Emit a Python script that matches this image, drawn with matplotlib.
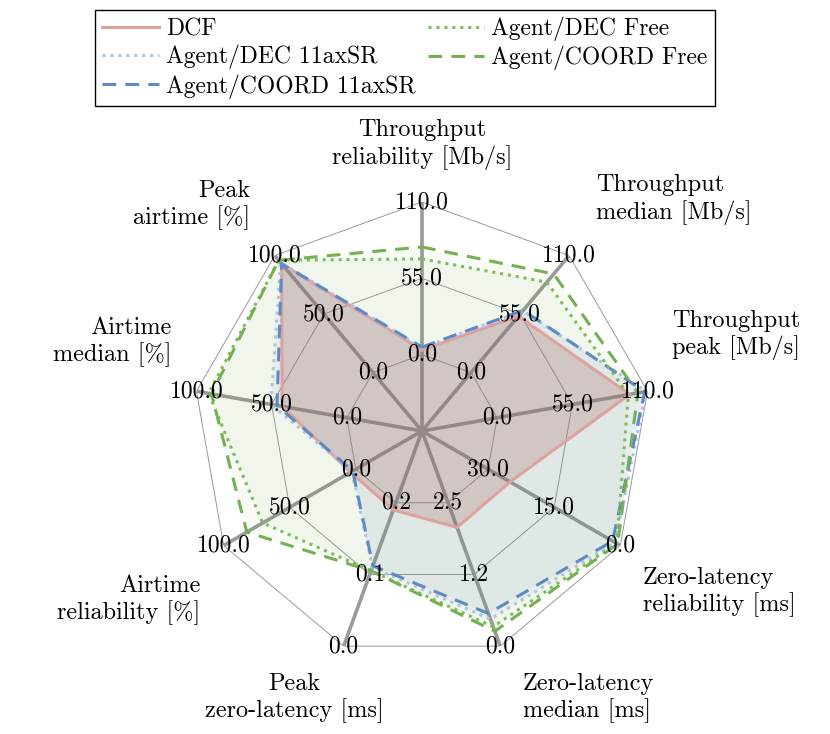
import matplotlib
matplotlib.use('Agg')
import matplotlib.pyplot as plt
import numpy as np

# LaTeX-like look
plt.rcParams['font.family'] = 'cmr10'
plt.rcParams['axes.unicode_minus'] = False
plt.rcParams['font.size'] = 17

# axes of the radar, clockwise from the top
categories = [
    'Throughput\nreliability [Mb/s]',
    'Throughput\nmedian [Mb/s]',
    'Throughput\npeak [Mb/s]',
    'Zero-latency\nreliability [ms]',
    'Zero-latency\nmedian [ms]',
    'Peak\nzero-latency [ms]',
    'Airtime\nreliability [%]',
    'Airtime\nmedian [%]',
    'Peak\nairtime [%]',
]
# value on the first (inner) ring and on the outer ring of each axis
inner_ticks = [0, 0, 0, 30, 2.5, 0.2, 0, 0, 0]
outer_ticks = [110, 110, 110, 0, 0, 0, 100, 100, 100]

series_names = ['DCF', 'Agent/DEC 11axSR', 'Agent/COORD 11axSR',
                'Agent/DEC Free', 'Agent/COORD Free']
dcf = [3.4, 53, 97, 25, 2.07, 0.19, 4, 43, 93]
dec_11ax = [5, 58, 109, 1.2, 0.47, 0.11, 3, 50.5, 94]
coord_11ax = [5.5, 58.5, 108, 1.75, 0.57, 0.112, 2.4, 46.4, 93]
dec_free = [69, 85, 96, 0.8, 0.34, 0.105, 70.5, 92, 96]
coord_free = [77.6, 92.7, 103, 0.6, 0.26, 0.105, 82.5, 90, 96]

line_colors = ['#dfa0a0', '#abc4e2', '#5d8ac4', '#80bb5c', '#74b152']
fill_colors = ['#b85a62', '#4c72b0', '#4c72b0', '#70ad47', '#70ad47']
fill_alpha = [0.25, 0.05, 0.05, 0.05, 0.05]
styles = ['-', (0, (1, 1.6)), (0, (4.5, 3)), (0, (1, 1.6)), (0, (4.5, 3))]


def to_radius(values):
    v = np.asarray(values, dtype=float)
    lo = np.asarray(inner_ticks, dtype=float)
    hi = np.asarray(outer_ticks, dtype=float)
    # 0 at the centre, inner tick at 1/3, outer tick at 1
    return 1 / 3 + 2 / 3 * (v - lo) / (hi - lo)


n = len(categories)
angles = np.linspace(0, 2 * np.pi, n, endpoint=False)
closed = np.append(angles, angles[0])

fig = plt.figure(figsize=(8.3, 7.34), dpi=100)
ax = fig.add_axes([0.2325, 0.1008, 0.5518, 0.624], polar=True)
ax.set_theta_zero_location('N')
ax.set_theta_direction(-1)
ax.set_ylim(0, 1)
ax.axis('off')

# polygon grid and spokes
for level in (1 / 3, 2 / 3, 1):
    ax.plot(closed, [level] * (n + 1), color='#9a9a9a', lw=0.7, zorder=1)
for a in angles:
    ax.plot([a, a], [0, 1], color='#9a9a9a', lw=2.6, zorder=1,
            solid_capstyle='butt')

all_series = [dcf, dec_11ax, coord_11ax, dec_free, coord_free]
handles = []
for vals, name, lc, fc, fa, ls in zip(all_series, series_names, line_colors,
                                      fill_colors, fill_alpha, styles):
    r = to_radius(vals)
    r = np.append(r, r[0])
    ax.fill(closed, r, color=fc, alpha=fa, lw=0, zorder=2)
    h, = ax.plot(closed, r, color=lc, lw=2.2, linestyle=ls, label=name,
                 zorder=3)
    handles.append(h)

# tick labels on every ring of every axis
for i, a in enumerate(angles):
    ticks = np.linspace(inner_ticks[i], outer_ticks[i], 3)
    for level, t in zip((1 / 3, 2 / 3, 1), ticks):
        ax.text(a, level, f'{t:.1f}', ha='center', va='center',
                fontsize=17, zorder=5)

# category labels
label_pos = [(0, 1.25), (36.9, 1.266), (69, 1.169), (126.1, 1.194),
             (159.3, 1.247), (205.6, 1.293), (232.7, 1.218),
             (289.6, 1.159), (322.7, 1.24)]
label_ha = ['center', 'left', 'left', 'left', 'left', 'center',
            'right', 'right', 'right']
for cat, (deg, rr), ha in zip(categories, label_pos, label_ha):
    ax.text(np.deg2rad(deg), rr, cat, ha=ha, va='center', fontsize=17.5,
            linespacing=1.2, clip_on=False)

fig.legend(handles=handles, labels=series_names, loc='upper center',
           bbox_to_anchor=(0.488, 0.987), ncol=2, fontsize=17,
           fancybox=False, edgecolor='black', framealpha=1,
           handlelength=2.4, columnspacing=0.5, labelspacing=0.2,
           borderaxespad=0, handletextpad=0.3, borderpad=0.3)

fig.savefig('out.png', dpi=100)
